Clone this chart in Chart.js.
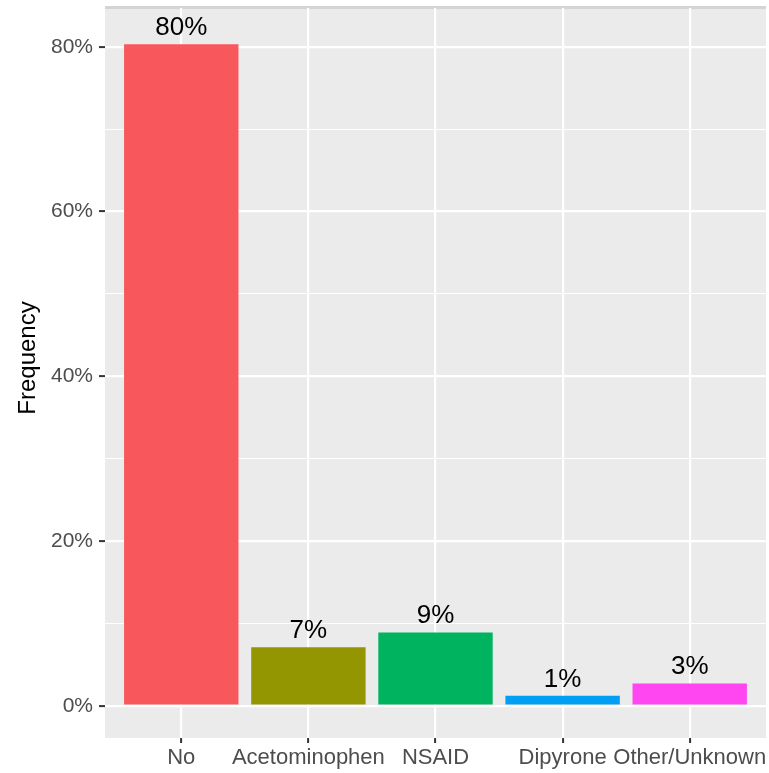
<!DOCTYPE html>
<html lang="en">
<head>
<meta charset="UTF-8">
<title>Frequency</title>
<script src="https://cdn.jsdelivr.net/npm/chart.js"></script>
<style>
  html, body { margin: 0; padding: 0; background: #fff; }
  #wrap { width: 769px; height: 773px; }
</style>
</head>
<body>
<div id="wrap"><canvas id="myChart" width="769" height="773"></canvas></div>
<script>
// data
const categories = ['No', 'Acetominophen', 'NSAID', 'Dipyrone', 'Other/Unknown'];
const values = [80.3, 7.1, 8.9, 1.2, 2.7];
const valueLabels = ['80%', '7%', '9%', '1%', '3%'];
const barColors = ['#F8575C', '#939600', '#00B35F', '#009FF3', '#FF46F0'];
const yTicks = [0, 10, 20, 30, 40, 50, 60, 70, 80];

const FONT = '"Liberation Sans", Arial, sans-serif';

// grey panel like ggplot
const panelBg = {
  id: 'panelBg',
  beforeDraw(chart) {
    const a = chart.chartArea, ctx = chart.ctx;
    ctx.save();
    ctx.fillStyle = '#EBEBEB';
    ctx.fillRect(a.left, a.top, a.right - a.left, a.bottom - a.top);
    ctx.fillStyle = '#D4D4D4';
    ctx.fillRect(a.left, a.top - 2, a.right - a.left, 3);
    ctx.restore();
  }
};

// percentage text above each bar
const barText = {
  id: 'barText',
  afterDatasetsDraw(chart) {
    const ctx = chart.ctx;
    const meta = chart.getDatasetMeta(0);
    ctx.save();
    ctx.font = '26px ' + FONT;
    ctx.fillStyle = '#000';
    ctx.textAlign = 'center';
    ctx.textBaseline = 'alphabetic';
    meta.data.forEach((bar, i) => {
      ctx.fillText(valueLabels[i], bar.x, bar.y - 9);
    });
    ctx.restore();
  }
};

// y title drawn by hand so it sits where ggplot puts it
const yTitle = {
  id: 'yTitle',
  afterDraw(chart) {
    const ctx = chart.ctx;
    ctx.save();
    ctx.translate(35, 358);
    ctx.rotate(-Math.PI / 2);
    ctx.font = '24px ' + FONT;
    ctx.fillStyle = '#000';
    ctx.textAlign = 'center';
    ctx.textBaseline = 'alphabetic';
    ctx.fillText('Frequency', 0, 0);
    ctx.restore();
  }
};

const ctx = document.getElementById('myChart').getContext('2d');

new Chart(ctx, {
  type: 'bar',
  data: {
    datasets: [{
      data: values.map((v, i) => ({ x: i, y: v })),
      backgroundColor: barColors,
      borderWidth: 0,
      barPercentage: 0.9,
      categoryPercentage: 1
    }]
  },
  options: {
    responsive: false,
    animation: false,
    layout: { padding: { top: 8, right: 3, left: 0, bottom: 0 } },
    plugins: { legend: { display: false }, tooltip: { enabled: false } },
    scales: {
      x: {
        type: 'linear',
        min: -0.6,
        max: 4.6,
        offset: false,
        afterBuildTicks: s => { s.ticks = categories.map((c, i) => ({ value: i })); },
        afterFit: s => { s.height = 35; s.paddingLeft = 0; s.paddingRight = 0; },
        border: { display: false },
        grid: { offset: false, color: '#FFFFFF', lineWidth: 2.2, tickLength: 5, tickColor: '#333333', tickWidth: 2 },
        ticks: {
          callback: v => categories[v],
          color: '#4D4D4D',
          font: { family: FONT, size: 22 },
          padding: 2,
          maxRotation: 0,
          autoSkip: false
        }
      },
      y: {
        min: -3.92,
        max: 84.7,
        afterBuildTicks: s => { s.ticks = yTicks.map(v => ({ value: v })); },
        afterFit: s => { s.width = 105; s.paddingTop = 0; s.paddingBottom = 0; },
        border: { display: false },
        grid: {
          color: '#FFFFFF',
          lineWidth: c => (c.tick && c.tick.value % 20 === 0) ? 2.2 : 1.1,
          tickLength: 6,
          tickColor: c => (c.tick && c.tick.value % 20 === 0) ? '#333333' : 'rgba(0,0,0,0)',
          tickWidth: 2
        },
        ticks: {
          callback: v => (v % 20 === 0) ? v + '%' : '',
          color: '#4D4D4D',
          font: { family: FONT, size: 21 },
          padding: 6,
          autoSkip: false
        }
      }
    }
  },
  plugins: [panelBg, barText, yTitle]
});
</script>
</body>
</html>
